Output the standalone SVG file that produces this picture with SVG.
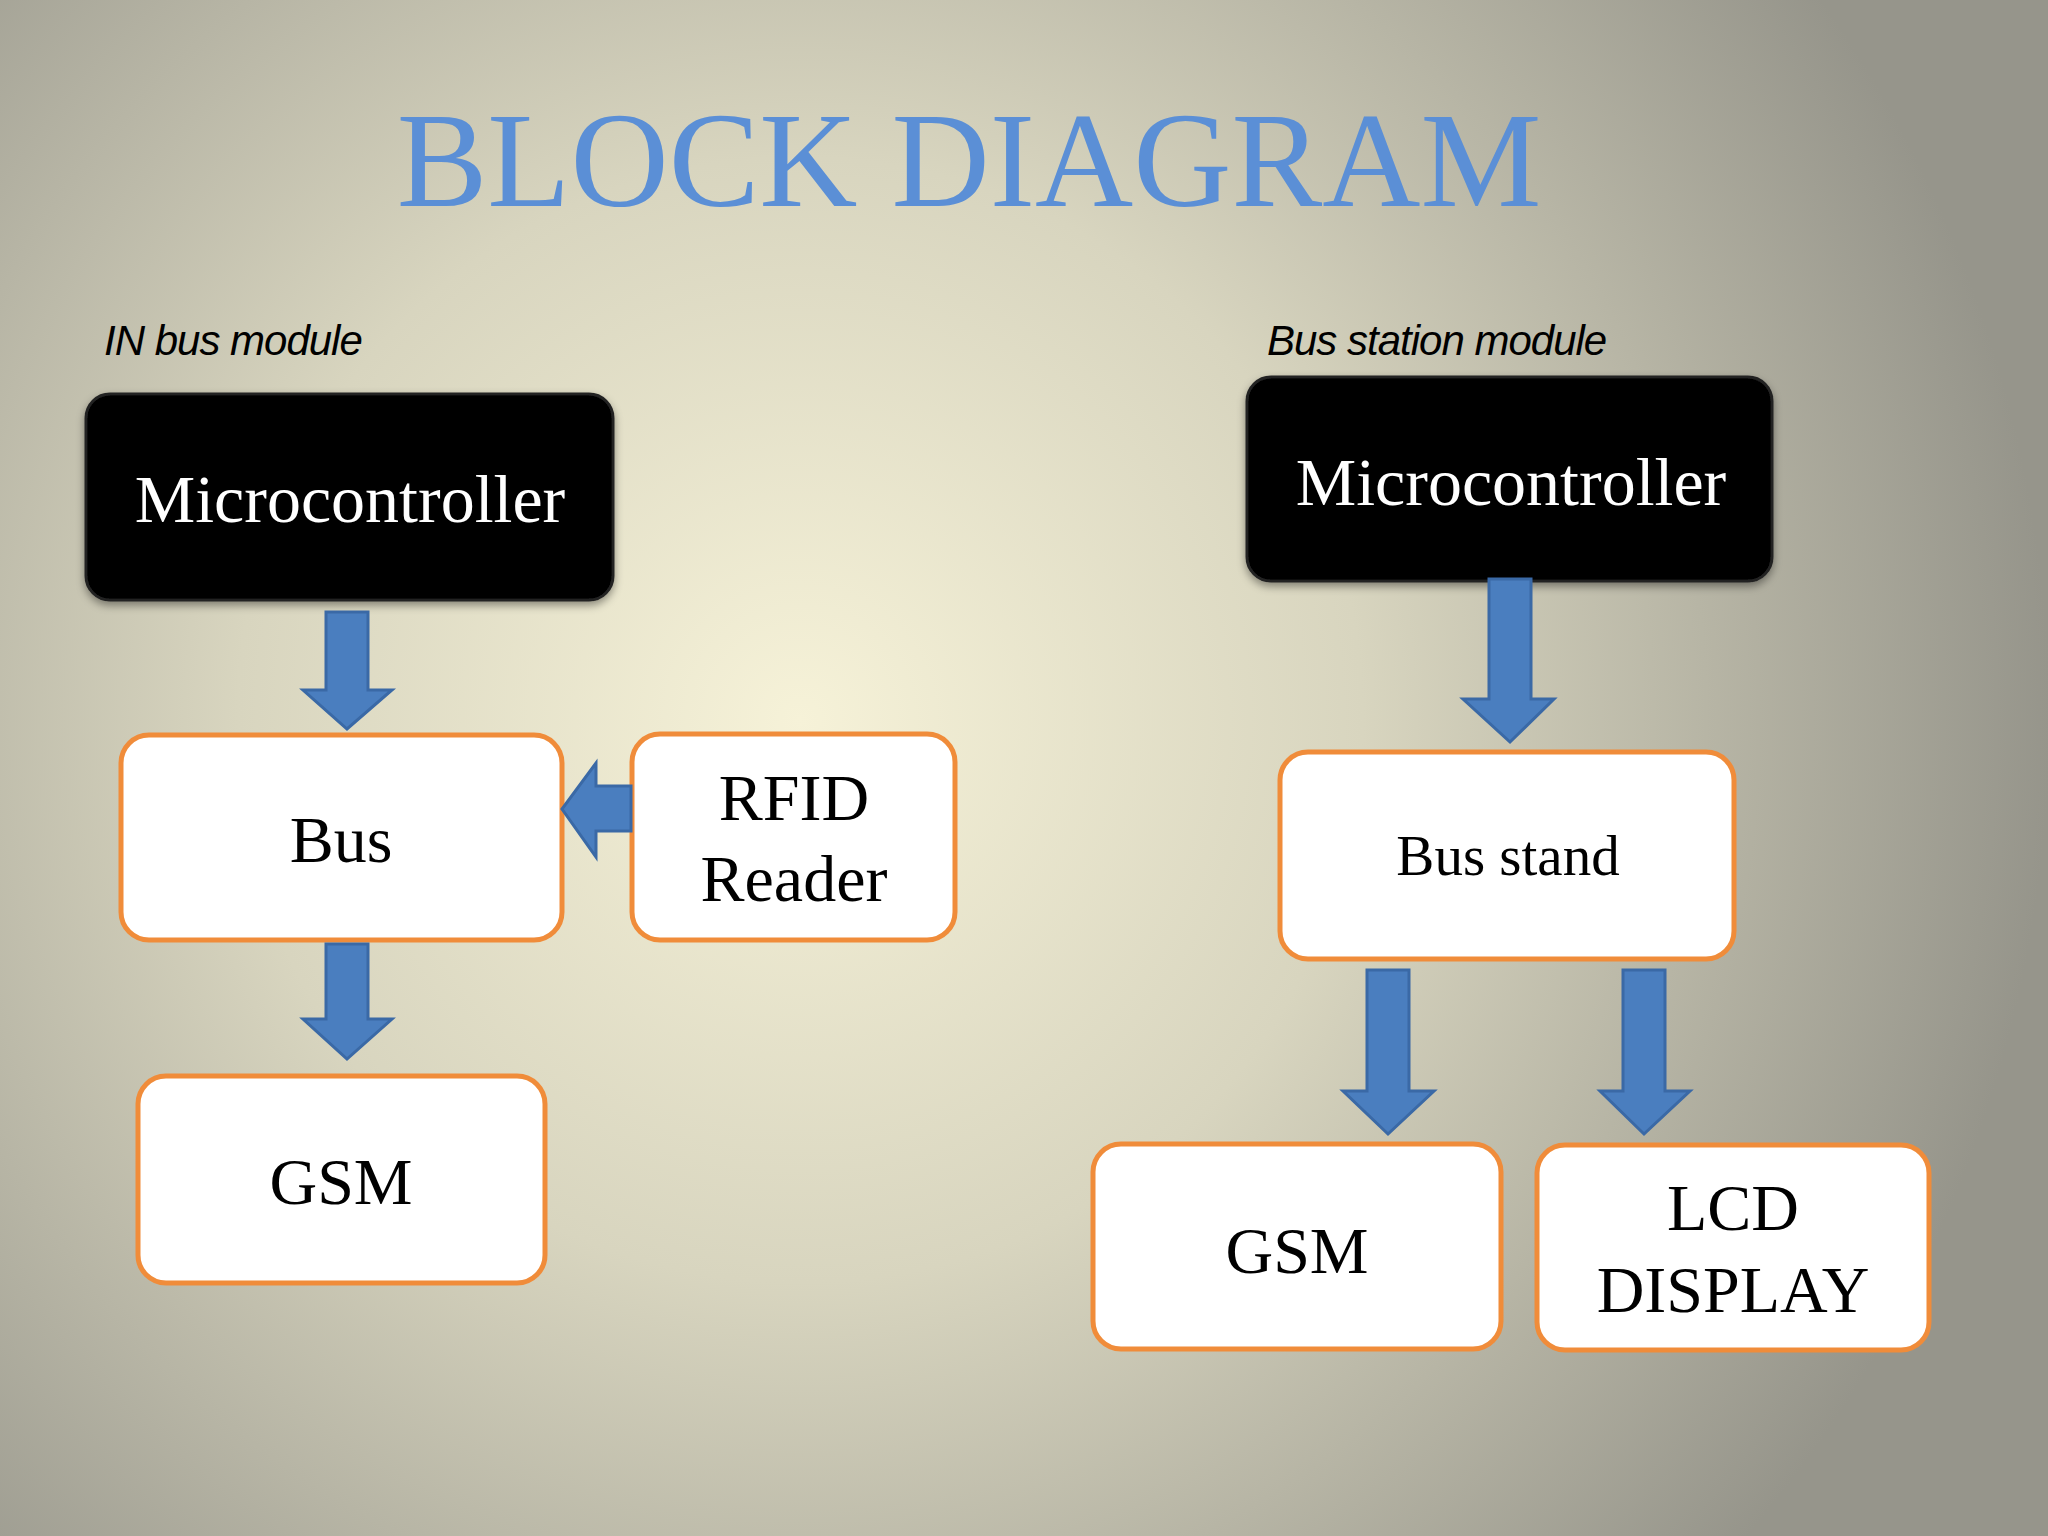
<svg xmlns="http://www.w3.org/2000/svg" width="2048" height="1536" viewBox="0 0 2048 1536">
<defs>
<radialGradient id="bg" cx="800" cy="720" r="1250" gradientUnits="userSpaceOnUse">
<stop offset="0" stop-color="#f6f2d8"/>
<stop offset="0.45" stop-color="#d8d5bf"/>
<stop offset="1" stop-color="#96958b"/>
</radialGradient>
<filter id="sh" x="-10%" y="-10%" width="120%" height="130%"><feDropShadow dx="0" dy="4" stdDeviation="4" flood-opacity="0.4"/></filter>
</defs>
<style>
.dark{fill:#000;stroke:#222;stroke-width:3;filter:url(#sh)}
.box{fill:#fff;stroke:#f08c3a;stroke-width:5}
.t{font-family:"Liberation Serif",serif;text-anchor:middle;fill:#000}
.w{fill:#fff}
.lab{font-family:"Liberation Sans Narrow","Liberation Sans",sans-serif;font-style:italic;font-size:42px;fill:#000;letter-spacing:-1px}
.arr{fill:#4a7ebf;stroke:#3a69a6;stroke-width:3}
</style>
<rect width="2048" height="1536" fill="url(#bg)"/>
<text x="969" y="206" class="t" font-size="136" style="fill:#5b8fd6">BLOCK DIAGRAM</text>
<text x="104" y="355" class="lab">IN bus module</text>
<text x="1267" y="355" class="lab">Bus station module</text>
<g id="mc1"><rect x="86" y="394" width="527" height="206" rx="24" class="dark"/><text x="350" y="522" class="t w" font-size="68">Microcontroller</text></g>
<g id="mc2"><rect x="1247" y="377" width="525" height="204" rx="24" class="dark"/><text x="1511" y="505" class="t w" font-size="68">Microcontroller</text></g>
<g id="bus"><rect x="121" y="735" width="441" height="205" rx="28" class="box"/><text x="341" y="862" class="t" font-size="66">Bus</text></g>
<g id="rfid"><rect x="632" y="734" width="323" height="206" rx="28" class="box"/><text x="794" y="820" class="t" font-size="66">RFID</text><text x="794" y="901" class="t" font-size="66">Reader</text></g>
<g id="gsm1"><rect x="138" y="1076" width="407" height="207" rx="28" class="box"/><text x="341" y="1204" class="t" font-size="66">GSM</text></g>
<g id="busstand"><rect x="1280" y="752" width="454" height="207" rx="28" class="box"/><text x="1508" y="875" class="t" font-size="57">Bus stand</text></g>
<g id="gsm2"><rect x="1093" y="1144" width="408" height="205" rx="28" class="box"/><text x="1297" y="1273" class="t" font-size="66">GSM</text></g>
<g id="lcd"><rect x="1537" y="1145" width="392" height="205" rx="28" class="box"/><text x="1733" y="1230" class="t" font-size="66">LCD</text><text x="1733" y="1312" class="t" font-size="66">DISPLAY</text></g>
<g id="connectors">
<polygon class="arr" points="326,612 368,612 368,690 392,690 347,729 303,690 326,690"/>
<polygon class="arr" points="326,944 368,944 368,1019 392,1019 347,1059 303,1019 326,1019"/>
<polygon class="arr" points="631,786 631,831 596,831 596,857 562,809 596,763 596,786"/>
<polygon class="arr" points="1489,579 1531,579 1531,699 1554,699 1510,742 1463,699 1489,699"/>
<polygon class="arr" points="1367,970 1409,970 1409,1091 1434,1091 1388,1134 1343,1091 1367,1091"/>
<polygon class="arr" points="1623,970 1665,970 1665,1091 1690,1091 1644,1134 1600,1091 1623,1091"/>
</g>
</svg>
